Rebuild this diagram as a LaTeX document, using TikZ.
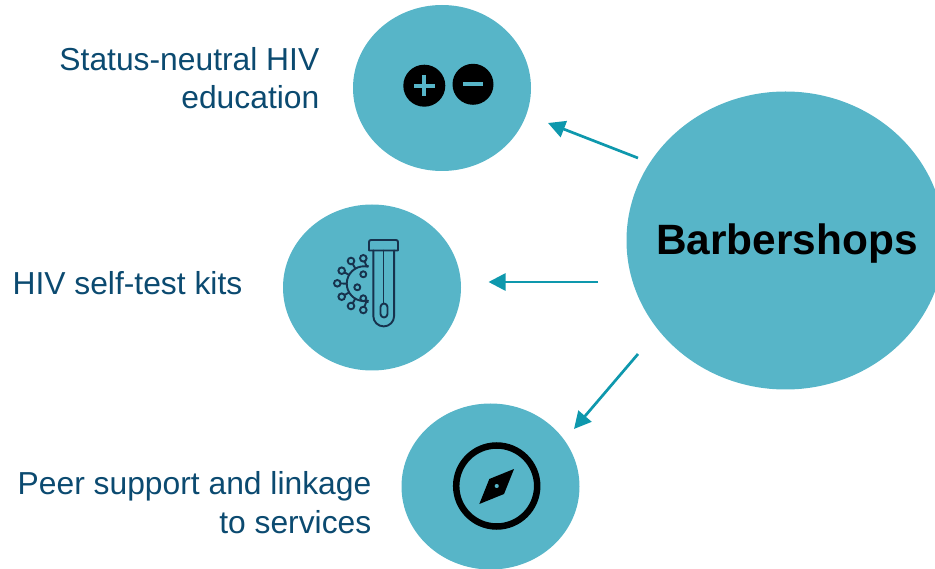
\documentclass[tikz,border=0pt]{standalone}
\usepackage{fontspec}
\setmainfont{Liberation Sans}
\definecolor{disc}{HTML}{57B5C8}
\definecolor{arrowc}{HTML}{0E98AD}
\definecolor{labelc}{HTML}{0B4A70}
\definecolor{iconc}{HTML}{17324D}
\usetikzlibrary{arrows.meta,shapes.geometric}
\begin{document}
\begin{tikzpicture}[x=1pt,y=-1pt,
  discnode/.style={ellipse,fill=disc,draw=none,inner sep=0pt},
  lab/.style={text=labelc,font=\fontsize{31.8}{38}\selectfont,inner sep=0pt,anchor=base east,align=right},
  conn/.style={draw=arrowc,line width=2.7pt,-{Triangle[length=17pt,width=17pt]}},
  ico/.style={draw=iconc,line width=1.9pt,line cap=round,line join=round}]
\useasboundingbox (0,0) rectangle (935,569);
\begin{scope}
\clip (0,0) rectangle (935,569);
\node[discnode,minimum width=318pt,minimum height=298pt] (big) at (785.5,240.5) {};
\node[discnode,minimum width=178pt,minimum height=166pt] (top) at (442,88) {};
\node[discnode,minimum width=178pt,minimum height=166pt] (mid) at (372,287.5) {};
\node[discnode,minimum width=178pt,minimum height=166pt] (bot) at (490.5,486.5) {};
\end{scope}
\node[font=\fontsize{42.4}{50}\selectfont\bfseries,anchor=base,inner sep=0pt] (bigt) at (787,255) {Barbershops};
\node[lab] (l1a) at (319.5,70.7) {Status-neutral HIV};
\node[lab] (l1b) at (319.5,108.7) {education};
\node[lab] (l2) at (242.5,294.7) {HIV self-test kits};
\node[lab] (l3a) at (371.5,494.5) {Peer support and linkage};
\node[lab] (l3b) at (371.5,533.5) {to services};
% connectors
\coordinate (a1s) at (638,158); \coordinate (a1e) at (548,123);
\coordinate (a2s) at (598,282); \coordinate (a2e) at (488.5,282);
\coordinate (a3s) at (638,354); \coordinate (a3e) at (574,429);
\draw[conn] (a1s) -- (a1e);
\draw[conn] (a2s) -- (a2e);
\draw[conn] (a3s) -- (a3e);
% plus / minus
\fill[black] (424.3,85.7) circle (21);
\fill[black] (473,84.3) circle (20.5);
\fill[disc] (413.8,83.7) rectangle (434.8,87.7);
\fill[disc] (422.3,75.2) rectangle (426.3,96.2);
\fill[disc] (463,82.3) rectangle (483,86.3);
% test tube
\draw[ico] (369,250.5) -- (369,242) arc[start angle=180,end angle=270,radius=2] -- (396,240) arc[start angle=270,end angle=360,radius=2] -- (398,250.5) -- cycle;
\draw[ico] (373.3,250.5) -- (373.3,316) arc[start angle=180,end angle=0,radius=10.4] -- (394.1,250.5);
\draw[ico] (383.5,250.5) -- (383.5,303);
\draw[ico] (380.5,307) arc[start angle=180,end angle=360,radius=3.5] -- (387.5,314) arc[start angle=0,end angle=180,radius=3.5] -- cycle;
% virus
\draw[ico] (368,266.7) arc[start angle=-77.2,end angle=-282.8,radius=17.4];
\draw[ico] (366,265.5) -- (368,265.5) (366,302) -- (368,302);
\foreach \x/\y/\u/\v in {363.3/258.3/366.5/266, 351/261/355.4/268.6, 341.7/270.7/349/274.9, 337.3/283.3/346.6/283.7, 341.7/296.7/349/292.5, 351/306/355.3/298.7, 363.3/310/366.5/301}{
  \draw[ico] (\u,\v) -- (\x,\y);
  \fill[disc,draw=iconc,line width=1.9pt] (\x,\y) circle (3.3);
}
\draw[ico] (363.3,274.3) circle (3);
\draw[ico] (357.3,287.3) circle (3);
\draw[ico] (363.3,298.3) circle (3);
% compass
\draw[black,line width=6.5pt] (496.7,486) circle (40.5);
\fill[black,even odd rule] (514,469) -- (489.3,479) -- (479.3,504) -- (504,494) -- cycle (496.7,486) circle (2.2);
\end{tikzpicture}
\end{document}
